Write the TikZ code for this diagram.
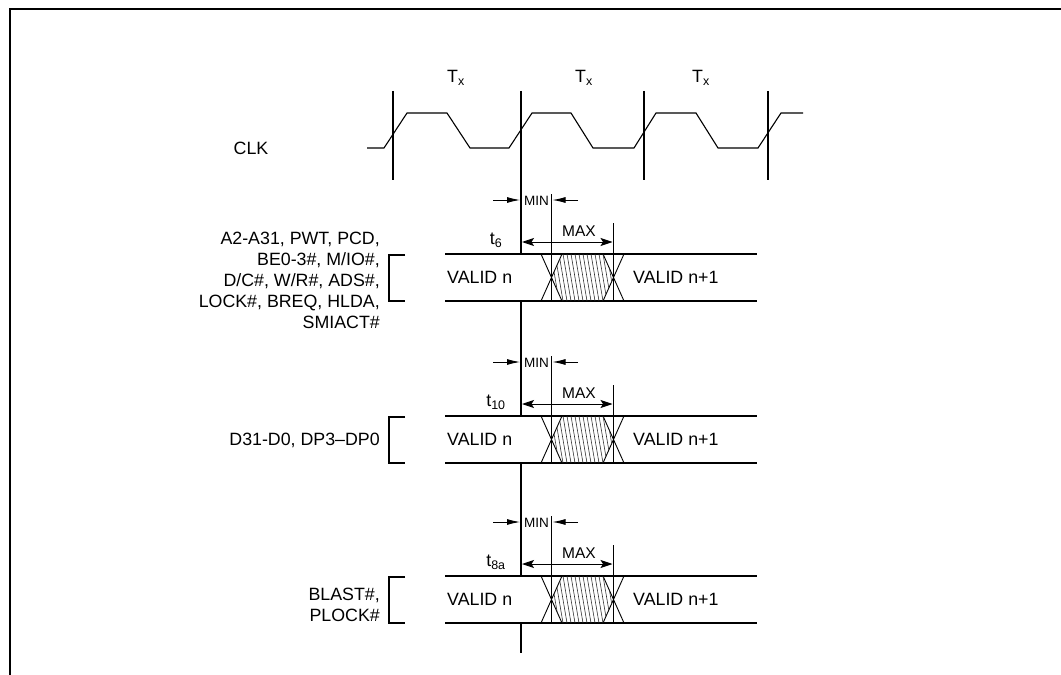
\documentclass[tikz,border=0pt]{standalone}
\usepackage{fontspec}
\setmainfont{Liberation Sans}
\usetikzlibrary{arrows.meta}
\begin{document}
\begin{tikzpicture}[x=1bp,y=-1bp,
  heavy/.style={line width=1.8bp},
  fine/.style={line width=0.9bp},
  hatchline/.style={line width=0.6bp, draw=black!80},
  lbl/.style={font=\fontsize{17.8bp}{21bp}\selectfont, inner sep=0pt},
  minlbl/.style={font=\fontsize{13.5bp}{15bp}\selectfont, inner sep=0pt},
  maxlbl/.style={font=\fontsize{15.5bp}{17bp}\selectfont, inner sep=0pt},
  minarrow/.style={fine,-{Latex[length=13bp,width=6bp]}},
  maxarrow/.style={fine,{Stealth[length=12bp,width=8bp,inset=2.5bp]}-{Stealth[length=12bp,width=8bp,inset=2.5bp]}}]
\useasboundingbox (0,0) rectangle (1061,675);
% frame
\draw[heavy] (1061,9) -- (10,9) -- (10,675);

% clock
\draw[line width=1.1bp] (367,148) -- (384,148) -- (407,113) -- (447,113) -- (470,148)
  -- (509,148) -- (532,113) -- (571,113) -- (593,148) -- (634,148) -- (656,113)
  -- (696,113) -- (718,148) -- (758,148) -- (781,113) -- (803,113);
\draw[heavy] (393,91) -- (393,180) (644,91) -- (644,180) (768,91) -- (768,180);
\node[lbl] (clk) at (251,148) {CLK};
\node[lbl] (tx1) at (456,78) {T\textsubscript{x}};
\node[lbl] (tx2) at (584,78) {T\textsubscript{x}};
\node[lbl] (tx3) at (701,78) {T\textsubscript{x}};

% main vertical line
\draw[heavy] (521,91) -- (521,254) (521,301) -- (521,416) (521,462) -- (521,576) (521,623) -- (521,653);

% bands
\foreach \ty/\tl in {254/6, 416/10, 576/8a} {
  \begin{scope}[shift={(0,\ty)}]
    \draw[heavy] (445,0) -- (757,0) (445,47) -- (757,47);
    \draw[heavy] (405,1) -- (389,1) -- (389,47) -- (405,47);
    \draw[fine] (541,0) -- (562,47) (541,47) -- (562,0) (603,0) -- (624,47) (603,47) -- (624,0);
    \begin{scope}
      \clip (551.5,23.5) -- (562,0) -- (603,0) -- (613.5,23.5) -- (603,47) -- (562,47) -- cycle;
      \foreach \i in {0,...,18} \draw[hatchline] (543+\i*4,0) -- (551+\i*4,47);
    \end{scope}
    \draw[fine] (551.5,-60) -- (551.5,47);
    \draw[fine] (613.5,-31) -- (613.5,47);
    \draw[minarrow] (493,-54) -- (520,-54);
    \draw[minarrow] (578,-54) -- (552.5,-54);
    \node[minlbl] (min\ty) at (536.5,-53) {MIN};
    \draw[maxarrow] (522,-12) -- (612.5,-12);
    \node[maxlbl] (max\ty) at (579,-23) {MAX};
    \node[lbl] (t\ty) at (496,-14) {t\textsubscript{\tl}};
    \node[lbl,anchor=west] (vn\ty) at (447,23.5) {VALID n};
    \node[lbl,anchor=west] (vm\ty) at (633,23.5) {VALID n+1};
  \end{scope}
}

% signal labels
\node[lbl,align=right,anchor=east] (sig1) at (380,280) {A2-A31, PWT, PCD,\\BE0-3\#, M/IO\#,\\D/C\#, W/R\#, ADS\#,\\LOCK\#, BREQ, HLDA,\\SMIACT\#};
\node[lbl,anchor=east] (sig2) at (380,440) {D31-D0, DP3–DP0};
\node[lbl,align=right,anchor=east] (sig3) at (380,604.5) {BLAST\#,\\PLOCK\#};
\end{tikzpicture}
\end{document}
